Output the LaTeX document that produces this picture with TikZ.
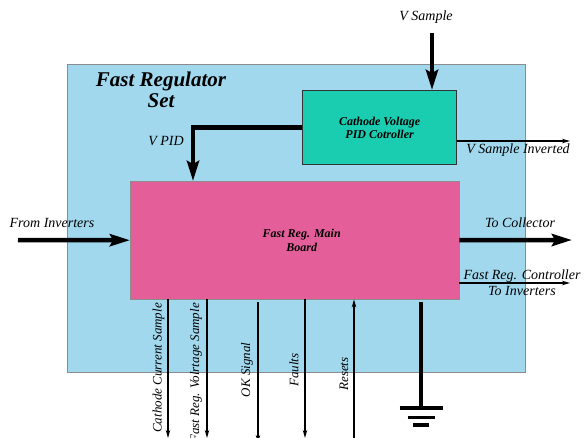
\documentclass[tikz,border=0pt]{standalone}
\usepackage{fontspec}
\setmainfont{Liberation Serif}
\usetikzlibrary{arrows.meta}
\definecolor{setblue}{RGB}{161,216,238}
\definecolor{pidgreen}{RGB}{26,204,176}
\definecolor{boardpink}{RGB}{228,94,154}
\definecolor{edgegray}{RGB}{140,140,140}

\begin{document}
\begin{tikzpicture}[x=1pt,y=-1pt,>={Stealth[length=8pt,width=4.5pt]},
  every node/.style={font=\fontsize{14}{16}\selectfont\itshape,inner sep=1pt},
  box/.style={draw,anchor=north west,inner sep=0pt,align=center,font=\fontsize{12}{13.5}\selectfont\bfseries\itshape},
  vlbl/.style={rotate=90,font=\fontsize{13}{15}\selectfont\itshape},
  fat/.style={line width=4.5pt,-{Stealth[length=20pt,width=12pt,inset=3pt]}},
  sig/.style={line width=1.3pt,->}]
\useasboundingbox (0,0) rectangle (584,437);
% blocks
\node[box,draw=edgegray,line width=1.2pt,fill=setblue,minimum width=458pt,minimum height=308pt] (set) at (67,64) {};
\node[box,draw=black!80,line width=1.3pt,fill=pidgreen,minimum width=154pt,minimum height=74pt] (pid) at (302,90) {Cathode Voltage\\PID Cotroller};
\node[box,draw=edgegray,fill=boardpink,minimum width=329pt,minimum height=118pt,
  label={[xshift=7pt,font=\fontsize{12}{14}\selectfont\bfseries\itshape,align=center]center:Fast Reg. Main\\Board}] (main) at (130,181) {};
\node[font=\fontsize{21}{21}\selectfont\bfseries\itshape,align=center] (title) at (161,90) {Fast Regulator\\Set};
% free ends
\coordinate (vsin) at (432,33); \coordinate (fin) at (18,240); \coordinate (tcol) at (572,240);
\coordinate (vsout) at (570,141); \coordinate (frout) at (570,283); \coordinate (gnd) at (421,408);
\coordinate (ccs) at (168,438); \coordinate (frv) at (207,438); \coordinate (oks) at (258,443);
\coordinate (flt) at (305,438); \coordinate (rst) at (354,443);
% connectors
\draw[fat] (vsin) -- (vsin |- pid.north);
\draw[fat] (pid.west) -| ([xshift=63pt]main.north west);
\draw[sig] (pid.east |- vsout) -- (vsout);
\draw[fat] (fin) -- (main.west); \draw[fat] (main.east) -- (tcol);
\draw[sig] (main.east |- frout) -- (frout);
\draw[sig] (ccs |- main.south) -- (ccs); \draw[sig] (frv |- main.south) -- (frv);
\draw[sig,shorten <=3pt] (oks |- main.south) -- (oks);
\draw[sig] (flt |- main.south) -- (flt); \draw[sig] (rst) -- (rst |- main.south);
% ground
\draw[line width=4pt,shorten <=3pt] (gnd |- main.south) -- (gnd);
\foreach \w/\d in {21.5/0,13.5/9.5,8/17} { \draw[line width=3.5pt] ([xshift=-\w pt,yshift=-\d pt]gnd) -- ([xshift=\w pt,yshift=-\d pt]gnd); }
% labels
\node (vslbl) at (426,17) {V Sample};
\node (vpidlbl) at (166,141) {V PID};
\node (vsilbl) at (518,150) {V Sample Inverted};
\node (finlbl) at (52,223) {From Inverters};
\node (tcollbl) at (520,223) {To Collector};
\node[align=center] (frlbl) at (522,283) {Fast Reg. Controller\\To Inverters};
\node[vlbl,anchor=east] (ccslbl) at (158.5,302) {Cathode Current Sample};
\node[vlbl,anchor=east] (frvlbl) at (196,302) {Fast Reg. Volrtage Sample};
\node[vlbl] (okslbl) at (247,370) {OK Signal};
\node[vlbl] (fltlbl) at (294,370) {Faults};
\node[vlbl] (rstlbl) at (344,374) {Resets};
\end{tikzpicture}
\end{document}
